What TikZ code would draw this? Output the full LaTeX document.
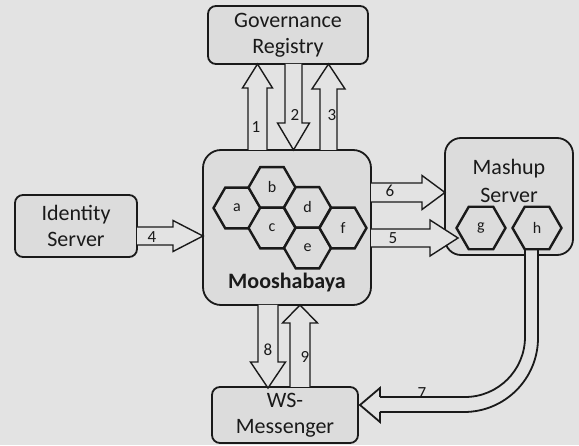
\documentclass[tikz,border=0pt]{standalone}
\usepackage{fontspec}
\setmainfont{Carlito}
\usetikzlibrary{shapes.geometric,calc}
\definecolor{bg}{HTML}{E3E3E3}
\definecolor{boxfill}{HTML}{DCDCDC}
\definecolor{ink}{HTML}{1A1A1A}
\newcommand\blkarrow[6]{%
  \begin{scope}[shift={(#1)},rotate=#2]
    \filldraw[blk] (0,#4) -- ({#3-#6},#4) -- ({#3-#6},#5) -- (#3,0) -- ({#3-#6},-#5) -- ({#3-#6},-#4) -- (0,-#4);
  \end{scope}}
\begin{document}
\begin{tikzpicture}[x=1pt,y=1pt,
  box/.style={draw=ink, fill=boxfill, line width=1.8pt, inner sep=0pt, outer sep=0pt,
    align=center, text=ink, font=\fontsize{22}{26}\selectfont},
  hexa/.style={regular polygon, regular polygon sides=6, draw=ink, fill=boxfill,
    line width=2.4pt, minimum size=47pt, inner sep=0pt, outer sep=0pt, text=ink,
    font=\fontsize{16}{18}\selectfont},
  blk/.style={draw=ink, fill=bg, line width=1.4pt, line join=miter},
  lbl/.style={text=ink, inner sep=0pt, font=\fontsize{17}{18}\selectfont},
  dline/.style={draw=ink, line width=1.8pt}]
\fill[bg] (0,0) rectangle (579,445);
\useasboundingbox (0,0) rectangle (579,445);

% boxes
\node[box, rounded corners=8pt, minimum width=160pt, minimum height=58pt] (gov) at (288,410) {Governance\\Registry};
\node[box, rounded corners=18pt, minimum width=168pt, minimum height=155pt] (moo) at (287,217.5) {};
\node[box, rounded corners=8pt, minimum width=122pt, minimum height=62pt] (id) at (76,219) {Identity\\Server};
\node[box, rounded corners=16pt, minimum width=128pt, minimum height=117pt] (mash) at (509,248.5) {};
\node[box, rounded corners=8pt, minimum width=146pt, minimum height=56pt] (ws) at (285,30) {WS-\\Messenger};

\node[text=ink, font=\fontsize{22}{26}\selectfont\bfseries] (moolbl) at (287,162) {Mooshabaya};
\node[text=ink, align=center, font=\fontsize{22}{28}\selectfont] (mashlbl) at (509,264) {Mashup\\Server};

% anchors for arrows
\coordinate (t1) at ($(moo.north)+(-29.5,0)$);
\coordinate (t2) at ($(gov.south)+(5.5,0)$);
\coordinate (t3) at ($(moo.north)+(41.5,0)$);
\coordinate (t4) at ($(id.east)+(0,-10)$);
\coordinate (t6) at ($(moo.east)+(0,35)$);
\coordinate (t5) at ($(moo.east)+(0,-10.5)$);
\coordinate (t8) at ($(moo.south)+(-19,0)$);
\coordinate (t9) at ($(ws.north)+(15,0)$);

\blkarrow{t1}{90}{86}{9.5}{15}{24}
\blkarrow{t2}{-90}{86}{8.5}{16}{27}
\blkarrow{t3}{90}{86}{8.5}{16.5}{25}
\blkarrow{t4}{0}{66}{9}{15.5}{30}
\blkarrow{t6}{0}{74}{9.5}{17}{23}
\blkarrow{t5}{0}{87}{9}{18}{28}
\blkarrow{t8}{-90}{83}{10}{17.5}{26}
\blkarrow{t9}{90}{82}{10}{17.5}{18}

% hexagons
\node[hexa] (a) at (237,237) {a};
\node[hexa] (b) at (272,257.5) {b};
\node[hexa] (c) at (272,217) {c};
\node[hexa] (d) at (307.5,237.5) {d};
\node[hexa] (e) at (307.5,197) {e};
\node[hexa] (f) at (343,217) {f};
\node[hexa, minimum size=49pt] (g) at (481,217) {g};
\node[hexa, minimum size=49pt] (h) at (537,217) {h};

% arrow 7
\coordinate (t7) at ($(ws.east)+(2,10)$);
\draw[bg, line width=12pt, rounded corners=67pt] ($(h.south)+(-5.5,-2)$) |- ($(t7)+(20,0.5)$);
\draw[dline, rounded corners=60pt] ($(h.south)+(-12,0)$) |- ($(t7)+(20,8)$);
\draw[dline, rounded corners=74pt] ($(h.south)+(1,0)$) |- ($(t7)+(20,-7)$);
\draw[dline, line join=miter] ($(t7)+(20,8)$) -- ($(t7)+(20,17)$) -- (t7) -- ($(t7)+(20,-17)$) -- ($(t7)+(20,-7)$);

% labels
\node[lbl] (l1) at (256,318) {1};
\node[lbl] (l2) at (295,330) {2};
\node[lbl] (l3) at (332,330) {3};
\node[lbl] (l4) at (152,208) {4};
\node[lbl] (l6) at (390,254) {6};
\node[lbl] (l5) at (393,207) {5};
\node[lbl] (l7) at (422,52) {7};
\node[lbl] (l8) at (268,95) {8};
\node[lbl] (l9) at (305,88) {9};
\end{tikzpicture}
\end{document}
